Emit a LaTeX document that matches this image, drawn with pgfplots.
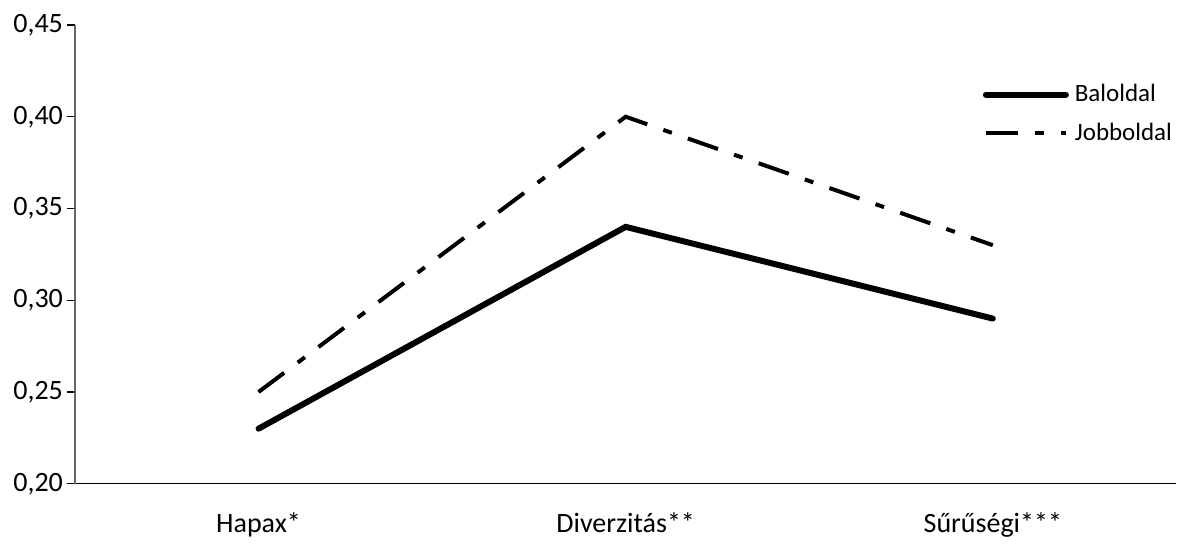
\documentclass[border=0pt]{standalone}
\usepackage{pgfplots}
\pgfplotsset{compat=1.18}
\usepackage{fontspec}
\setmainfont{Carlito}

\begin{document}
\begin{tikzpicture}[font=\fontsize{14}{16}\selectfont]
\begin{axis}[
    scale only axis,
    width=551pt,
    height=229.5pt,
    xmin=-0.5, xmax=2.5,
    ymin=0.20, ymax=0.45,
    ytick={0.20,0.25,...,0.45},
    xtick={0,1,2},
    xticklabels={Hapax*, Diverzitás**, Sűrűségi***},
    extra x ticks={0.5,1.5},
    extra x tick labels={},
    extra x tick style={major tick length=5pt, tick style={black, line width=0.6pt}},
    axis x line*=bottom,
    axis y line*=left,
    x axis line style={black, line width=0.6pt, -},
    y axis line style={gray!80!black, line width=0.8pt, -},
    tick align=outside,
    x tick style={draw=none},
    y tick style={black, line width=0.6pt},
    major tick length=4pt,
    xticklabel style={yshift=-7pt},
    yticklabel style={xshift=1.5pt},
    /pgf/number format/.cd, fixed, fixed zerofill, precision=2, use comma,
    /pgfplots/.cd,
    /pgf/number format/assume math mode=true,
    legend style={draw=none, fill=none, at={(1,0.88)}, anchor=north east,
        inner xsep=0pt, inner ysep=0pt, row sep=5pt,
        font=\fontsize{12.5}{14}\selectfont},
    legend cell align=left,
    legend image code/.code={\draw[#1] (0pt,0pt) -- (40pt,0pt); \path (41pt,0pt);},
    clip=false,
]
\addplot[black, line width=3pt, line cap=round, line join=miter]
coordinates {(0,0.23) (1,0.34) (2,0.29)};
\addlegendentry{Baloldal}

\addplot[black, line width=2pt, dash pattern=on 16pt off 8.5pt on 4.5pt off 8.5pt]
coordinates {(0,0.25) (1,0.40) (2,0.33)};
\addlegendentry{Jobboldal}

\path[use as bounding box] (rel axis cs:0,0) ++(-37.5pt,-25pt) rectangle ([shift={(0pt,12.5pt)}]rel axis cs:1,1);
\end{axis}
\end{tikzpicture}
\end{document}
